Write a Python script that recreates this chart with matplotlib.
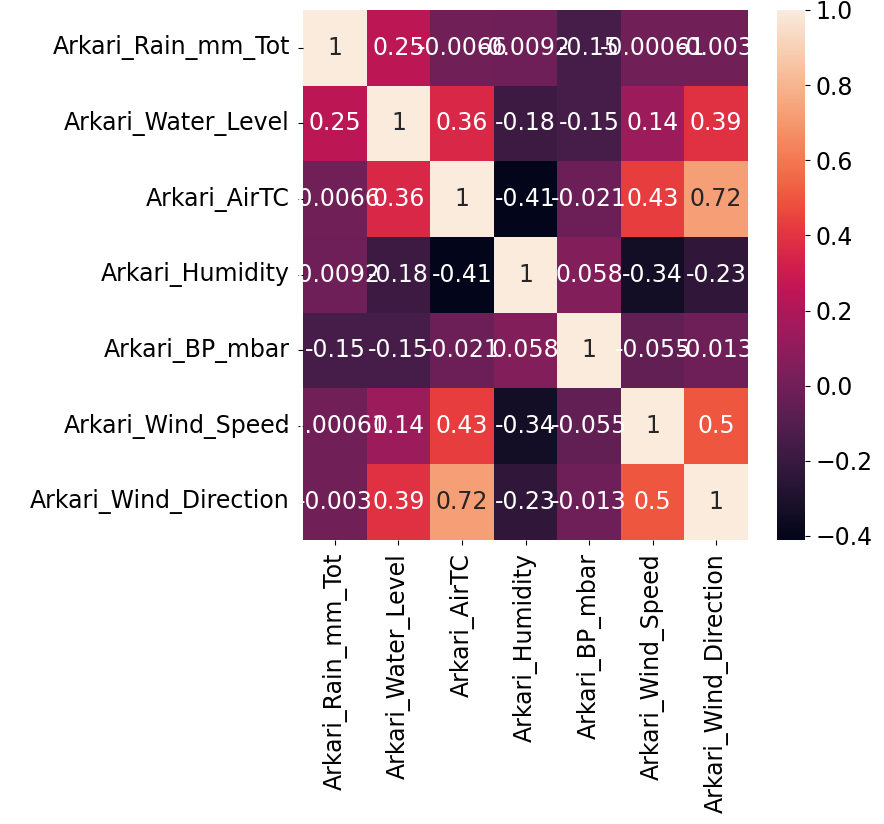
import matplotlib
matplotlib.use('Agg')
import matplotlib.pyplot as plt
import seaborn as sns
import numpy as np
import pandas as pd

labels = ['Arkari_Rain_mm_Tot', 'Arkari_Water_Level', 'Arkari_AirTC', 'Arkari_Humidity',
          'Arkari_BP_mbar', 'Arkari_Wind_Speed', 'Arkari_Wind_Direction']

row_rain = [1, 0.25, -0.0066, -0.0092, -0.15, -0.00061, -0.003]
row_water = [0.25, 1, 0.36, -0.18, -0.15, 0.14, 0.39]
row_air = [-0.0066, 0.36, 1, -0.41, -0.021, 0.43, 0.72]
row_hum = [-0.0092, -0.18, -0.41, 1, 0.058, -0.34, -0.23]
row_bp = [-0.15, -0.15, -0.021, 0.058, 1, -0.055, -0.013]
row_speed = [-0.00061, 0.14, 0.43, -0.34, -0.055, 1, 0.5]
row_dir = [-0.003, 0.39, 0.72, -0.23, -0.013, 0.5, 1]

corr = pd.DataFrame([row_rain, row_water, row_air, row_hum, row_bp, row_speed, row_dir],
                    index=labels, columns=labels)

fs = 17
fig = plt.figure(figsize=(8.84, 8.24), dpi=100)
ax = fig.add_axes([0.343, 0.345, 0.503, 0.643])
cax = fig.add_axes([0.879, 0.345, 0.032, 0.643])

sns.heatmap(corr, annot=True, ax=ax, cbar_ax=cax, annot_kws={'size': fs})
ax.tick_params(labelsize=fs, pad=6)
ax.set_xticklabels(labels, rotation=90)
ax.set_yticklabels(labels, rotation=0)
cax.tick_params(labelsize=fs)

fig.savefig('out.png', dpi=100)
